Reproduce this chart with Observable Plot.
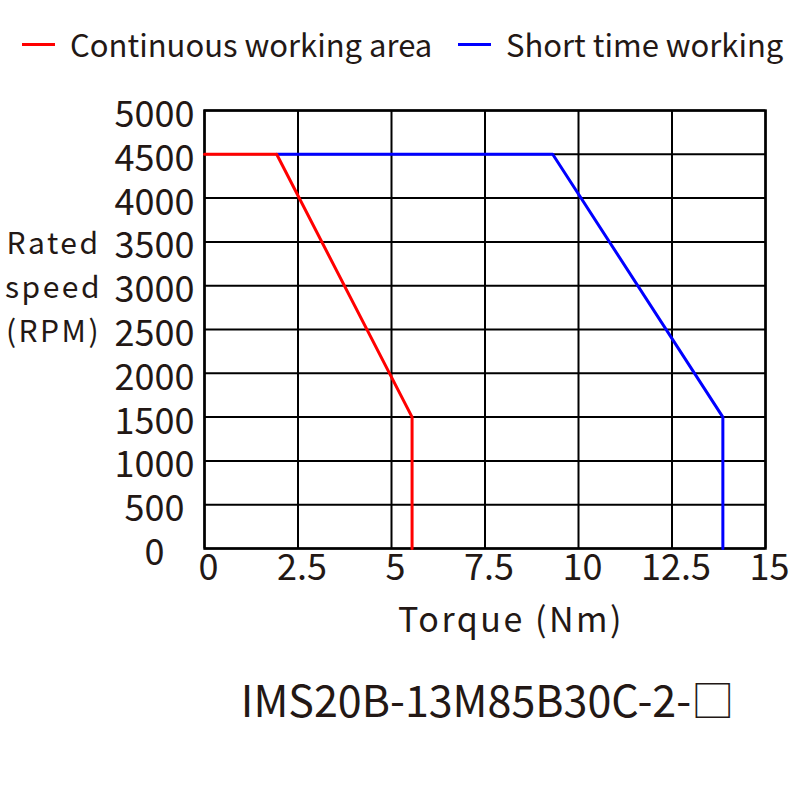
<!DOCTYPE html>
<html>
<head>
<meta charset="utf-8">
<script src="https://cdn.jsdelivr.net/npm/d3@7"></script>
<script src="https://cdn.jsdelivr.net/npm/@observablehq/plot@0.6"></script>
<style>
  html, body { margin: 0; padding: 0; background: #fff; }
  body { width: 800px; height: 800px; position: relative; overflow: hidden; font-family: "Noto Sans CJK SC", "Noto Sans", sans-serif; color: #231815; }
  .leg { position: absolute; top: 22px; font-size: 31px; line-height: 44px; white-space: nowrap; display: flex; align-items: center; }
  .leg .sw { display: inline-block; width: 33px; height: 3px; margin-right: 15px; }
  #chart { position: absolute; left: 0; top: 70px; }
  #title { position: absolute; left: 0; width: 800px; top: 668px; text-align: center; font-size: 43px; line-height: 60px; padding-left: 175px; box-sizing: border-box; }
</style>
</head>
<body>
<div class="leg" id="leg1" style="left:22px"><span class="sw" style="background:#ff0000"></span><span>Continuous working area</span></div>
<div class="leg" id="leg2" style="left:458px"><span class="sw" style="background:#0000ff"></span><span>Short time working</span></div>
<div id="chart"></div>
<div id="title">IMS20B-13M85B30C-2-□</div>
<script>
const seriesNames = ["Continuous working area", "Short time working"];
const continuousTorque = [0, 1.93, 5.55, 5.55];
const continuousSpeed = [4500, 4500, 1500, 0];
const shortTorque = [1.93, 9.31, 13.86, 13.86];
const shortSpeed = [4500, 4500, 1500, 0];
const xTicks = [0, 2.5, 5, 7.5, 10, 12.5, 15];
const xTickLabels = ["0", "2.5", "5", "7.5", "10", "12.5", "15"];
const yTicks = [0, 500, 1000, 1500, 2000, 2500, 3000, 3500, 4000, 4500, 5000];
const yTickLabels = ["0", "500", "1000", "1500", "2000", "2500", "3000", "3500", "4000", "4500", "5000"];
const xLabel = "Torque (Nm)";
const yLabel = "Rated\nspeed\n(RPM)";

const cont = continuousTorque.map((t, i) => ({torque: t, speed: continuousSpeed[i], series: seriesNames[0]}));
const shrt = shortTorque.map((t, i) => ({torque: t, speed: shortSpeed[i], series: seriesNames[1]}));

const font = "Noto Sans CJK SC";
const chart = Plot.plot({
  width: 800,
  height: 580,
  marginTop: 40,
  marginBottom: 102,
  marginLeft: 204,
  marginRight: 35,
  style: {fontFamily: font, fontSize: "36px", color: "#231815", background: "transparent", overflow: "visible"},
  x: {domain: [0, 15], label: null},
  y: {domain: [0, 5000], label: null},
  marks: [
    Plot.gridX(xTicks, {stroke: "#000", strokeOpacity: 1, strokeWidth: 2}),
    Plot.gridY(yTicks, {stroke: "#000", strokeOpacity: 1, strokeWidth: 2}),
    Plot.frame({stroke: "#000", strokeWidth: 2.5}),
    Plot.axisX(xTicks, {tickSize: 0, tickPadding: 6, dx: 4, fontSize: 36, fill: "#231815", tickFormat: d => xTickLabels[xTicks.indexOf(d)], label: null}),
    Plot.axisY(yTicks, {tickSize: 0, tickPadding: 50, textAnchor: "middle", dy: 5, fontSize: 36, fill: "#231815", tickFormat: d => yTickLabels[yTicks.indexOf(d)], label: null}),
    Plot.line(shrt, {x: "torque", y: "speed", stroke: "#0000ff", strokeWidth: 3}),
    Plot.line(cont, {x: "torque", y: "speed", stroke: "#ff0000", strokeWidth: 3}),
    Plot.text([xLabel], {frameAnchor: "bottom", dx: 26, dy: 73, fontSize: 34, fill: "#231815", lineAnchor: "middle"}),
    Plot.text([yLabel], {frameAnchor: "left", dx: -151, dy: -46, fontSize: 30, fill: "#231815", lineAnchor: "middle", textAnchor: "middle", lineHeight: 1.47})
  ]
});
d3.select(chart).selectAll("text").filter(function () {
  const t = this.textContent;
  return t.includes("Torque") || t.includes("Rated");
}).attr("letter-spacing", "2.5px");
document.getElementById("chart").appendChild(chart);
</script>
</body>
</html>
